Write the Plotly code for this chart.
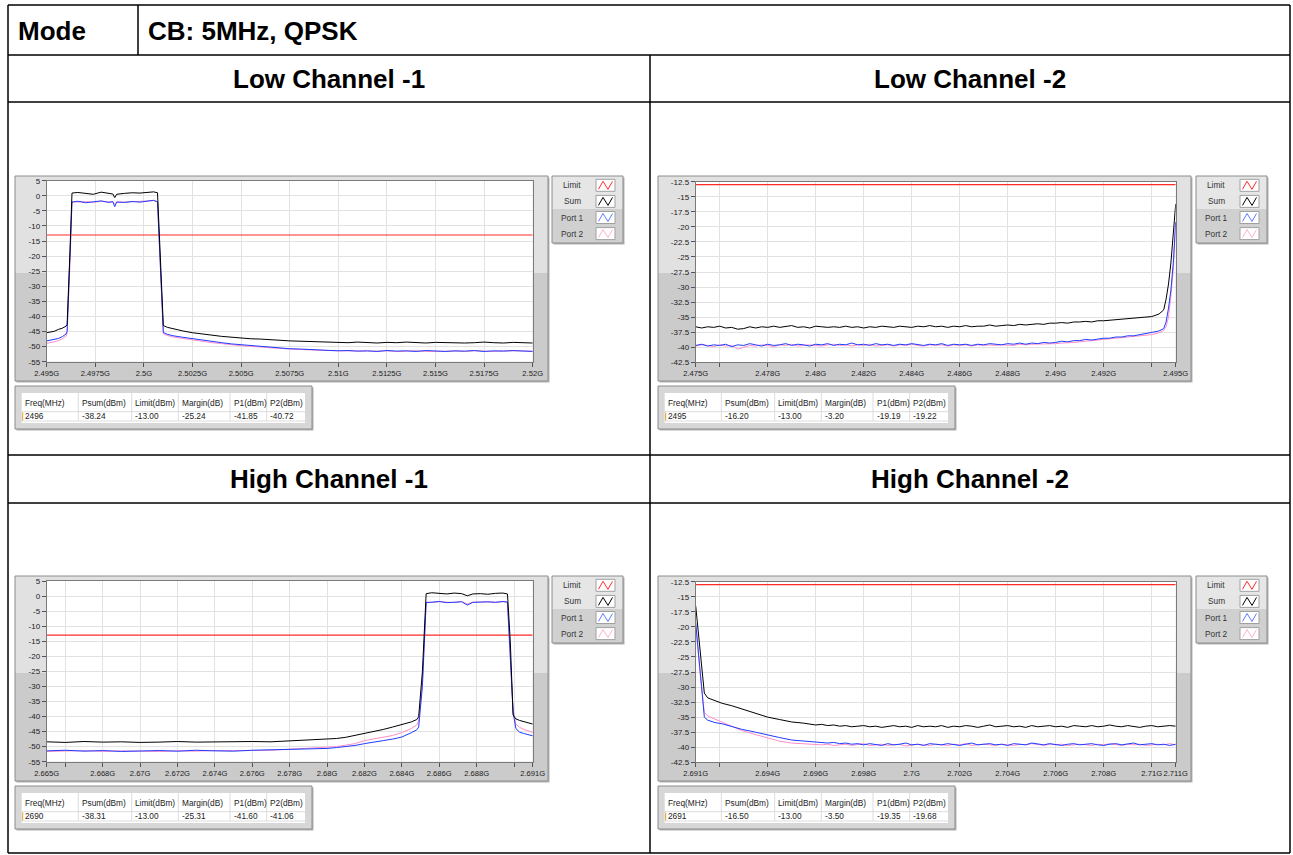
import plotly.graph_objects as go

# ---------------- data ----------------
mode_label = "Mode"
mode_value = "CB: 5MHz, QPSK"
panel_titles = ["Low Channel -1", "Low Channel -2", "High Channel -1", "High Channel -2"]
legend_names = ["Limit", "Sum", "Port 1", "Port 2"]
table_columns = ["Freq(MHz)", "Psum(dBm)", "Limit(dBm)", "Margin(dB)", "P1(dBm)", "P2(dBm)"]
limit_level = -13.0

lc1_row = ["2496", "-38.24", "-13.00", "-25.24", "-41.85", "-40.72"]
lc2_row = ["2495", "-16.20", "-13.00", "-3.20", "-19.19", "-19.22"]
hc1_row = ["2690", "-38.31", "-13.00", "-25.31", "-41.60", "-41.06"]
hc2_row = ["2691", "-16.50", "-13.00", "-3.50", "-19.35", "-19.68"]

wide_yticks = [5, 0, -5, -10, -15, -20, -25, -30, -35, -40, -45, -50, -55]
wide_ylabels = ["5", "0", "-5", "-10", "-15", "-20", "-25", "-30", "-35", "-40", "-45", "-50", "-55"]
fine_yticks = [-12.5, -15, -17.5, -20, -22.5, -25, -27.5, -30, -32.5, -35, -37.5, -40, -42.5]
fine_ylabels = ["-12.5", "-15", "-17.5", "-20", "-22.5", "-25", "-27.5", "-30", "-32.5", "-35", "-37.5", "-40", "-42.5"]

lc1_xticks = [2.495, 2.4975, 2.5, 2.5025, 2.505, 2.5075, 2.51, 2.5125, 2.515, 2.5175, 2.52]
lc1_xlabels = ["2.495G", "2.4975G", "2.5G", "2.5025G", "2.505G", "2.5075G", "2.51G", "2.5125G", "2.515G", "2.5175G", "2.52G"]
lc2_xticks = [2.475, 2.476, 2.478, 2.48, 2.482, 2.484, 2.486, 2.488, 2.49, 2.492, 2.494, 2.495]
lc2_xlabels = ["2.475G", "", "2.478G", "2.48G", "2.482G", "2.484G", "2.486G", "2.488G", "2.49G", "2.492G", "", "2.495G"]
hc1_xticks = [2.665, 2.666, 2.668, 2.67, 2.672, 2.674, 2.676, 2.678, 2.68, 2.682, 2.684, 2.686, 2.688, 2.69, 2.691]
hc1_xlabels = ["2.665G", "", "2.668G", "2.67G", "2.672G", "2.674G", "2.676G", "2.678G", "2.68G", "2.682G", "2.684G", "2.686G", "2.688G", "", "2.691G"]
hc2_xticks = [2.691, 2.692, 2.694, 2.696, 2.698, 2.7, 2.702, 2.704, 2.706, 2.708, 2.71, 2.711]
hc2_xlabels = ["2.691G", "", "2.694G", "2.696G", "2.698G", "2.7G", "2.702G", "2.704G", "2.706G", "2.708G", "2.71G", "2.711G"]

# Low Channel -1 (GHz / dBm)
lc1_freq = [2.4950, 2.4952, 2.4954, 2.4956, 2.4958, 2.4960, 2.49605, 2.4962, 2.4963, 2.4966,
            2.4970, 2.4974, 2.4978, 2.4982, 2.4984, 2.4985, 2.4986, 2.4990, 2.4994, 2.4998,
            2.5002, 2.5005, 2.5007, 2.50085, 2.5010, 2.5012, 2.5015, 2.5020, 2.5025, 2.5030,
            2.5035, 2.5040, 2.5045, 2.5050, 2.5055, 2.5060, 2.5065, 2.5070, 2.5075, 2.5080,
            2.5085, 2.5090, 2.5095, 2.5100, 2.5105, 2.5110, 2.5115, 2.5120, 2.5125, 2.5130,
            2.5135, 2.5140, 2.5145, 2.5150, 2.5155, 2.5160, 2.5165, 2.5170, 2.5175, 2.5180,
            2.5185, 2.5190, 2.5195, 2.5200]
lc1_sum = [-45.4, -45.1, -44.9, -44.3, -43.9, -43.2, -42.6, -18.0, 0.9, 1.1,
           0.8, 0.5, 1.2, 0.7, 0.6, -0.6, 0.5, 0.8, 1.0, 0.9,
           1.1, 1.3, 1.0, -22.0, -43.0, -43.6, -44.1, -44.8, -45.4, -45.9,
           -46.2, -46.6, -46.9, -47.1, -47.4, -47.5, -47.8, -47.9, -48.1, -48.2,
           -48.4, -48.5, -48.4, -48.6, -48.7, -48.5, -48.7, -48.8, -48.6, -48.7,
           -48.5, -48.7, -48.8, -48.6, -48.7, -48.6, -48.8, -48.7, -48.5, -48.7,
           -48.8, -48.6, -48.7, -48.8]
lc1_p1 = [-48.1, -47.9, -47.7, -47.3, -46.7, -45.8, -45.0, -22.0, -2.1, -1.8,
          -2.3, -2.0, -1.7, -2.2, -1.9, -3.6, -2.1, -2.2, -1.9, -2.1,
          -1.7, -1.5, -2.0, -24.0, -45.3, -45.9, -46.4, -46.9, -47.4, -47.9,
          -48.3, -48.7, -49.1, -49.4, -49.7, -49.9, -50.2, -50.4, -50.7, -50.8,
          -51.0, -51.1, -51.2, -51.4, -51.3, -51.5, -51.4, -51.6, -51.3, -51.5,
          -51.4, -51.6, -51.3, -51.5, -51.6, -51.4, -51.5, -51.3, -51.6, -51.4,
          -51.5, -51.3, -51.5, -51.6]
lc1_p2 = [-48.9, -48.7, -48.4, -48.0, -47.4, -46.5, -45.6, -22.5, -2.0, -2.1,
          -1.9, -2.2, -1.8, -2.0, -2.1, -2.8, -2.0, -2.1, -2.0, -1.9,
          -1.8, -1.6, -2.1, -24.5, -45.8, -46.3, -46.8, -47.3, -47.8, -48.3,
          -48.7, -49.0, -49.4, -49.7, -49.9, -50.2, -50.4, -50.6, -50.8, -51.0,
          -51.1, -51.2, -51.3, -51.4, -51.5, -51.4, -51.5, -51.5, -51.4, -51.6,
          -51.5, -51.4, -51.6, -51.5, -51.4, -51.5, -51.6, -51.4, -51.5, -51.6,
          -51.4, -51.5, -51.6, -51.5]

# Low Channel -2
lc2_freq = [2.47500, 2.47525, 2.47550, 2.47575, 2.47600, 2.47625, 2.47650, 2.47675, 2.47700, 2.47725,
            2.47750, 2.47775, 2.47800, 2.47825, 2.47850, 2.47875, 2.47900, 2.47925, 2.47950, 2.47975,
            2.48000, 2.48025, 2.48050, 2.48075, 2.48100, 2.48125, 2.48150, 2.48175, 2.48200, 2.48225,
            2.48250, 2.48275, 2.48300, 2.48325, 2.48350, 2.48375, 2.48400, 2.48425, 2.48450, 2.48475,
            2.48500, 2.48525, 2.48550, 2.48575, 2.48600, 2.48625, 2.48650, 2.48675, 2.48700, 2.48725,
            2.48750, 2.48775, 2.48800, 2.48825, 2.48850, 2.48875, 2.48900, 2.48925, 2.48950, 2.48975,
            2.49000, 2.49025, 2.49050, 2.49075, 2.49100, 2.49125, 2.49150, 2.49175, 2.49200, 2.49225,
            2.49250, 2.49275, 2.49300, 2.49325, 2.49350, 2.49375, 2.49400,
            2.4943, 2.4945, 2.4946, 2.4947, 2.4948, 2.4949, 2.4950]
lc2_sum = [-36.6, -36.8, -36.6, -36.7, -36.5, -36.8, -36.7, -37.0, -36.9, -36.6,
           -36.8, -36.6, -36.7, -36.5, -36.7, -36.6, -36.4, -36.7, -36.6, -36.8,
           -36.5, -36.6, -36.7, -36.6, -36.7, -36.5, -36.7, -36.6, -36.8, -36.6,
           -36.7, -36.5, -36.6, -36.7, -36.5, -36.6, -36.7, -36.5, -36.6, -36.4,
           -36.6, -36.5, -36.7, -36.5, -36.6, -36.4, -36.6, -36.5, -36.5, -36.3,
           -36.5, -36.4, -36.3, -36.4, -36.2, -36.3, -36.2, -36.1, -36.2, -36.0,
           -36.0, -35.9, -36.0, -35.8, -35.8, -35.7, -35.8, -35.6, -35.6, -35.5,
           -35.5, -35.3, -35.3, -35.2, -35.1, -35.0, -34.9,
           -34.5, -33.8, -32.0, -29.5, -26.0, -21.5, -16.2]
lc2_p1 = [-39.7, -39.5, -39.8, -39.6, -39.7, -39.5, -39.9, -39.6, -39.7, -39.4,
          -39.6, -39.8, -39.5, -39.7, -39.6, -39.4, -39.7, -39.5, -39.6, -39.8,
          -39.5, -39.6, -39.4, -39.7, -39.5, -39.6, -39.3, -39.6, -39.5, -39.7,
          -39.4, -39.6, -39.5, -39.7, -39.5, -39.6, -39.4, -39.6, -39.7, -39.5,
          -39.6, -39.4, -39.7, -39.5, -39.6, -39.5, -39.7, -39.5, -39.6, -39.4,
          -39.5, -39.6, -39.4, -39.5, -39.3, -39.5, -39.3, -39.4, -39.2, -39.3,
          -39.2, -39.0, -39.1, -38.9, -38.9, -38.7, -38.8, -38.6, -38.5, -38.5,
          -38.3, -38.3, -38.1, -38.1, -37.9, -37.8, -37.6,
          -37.3, -36.9, -35.8, -33.5, -30.5, -26.0, -19.2]
lc2_p2 = [-39.8, -39.6, -39.7, -39.9, -39.6, -39.8, -39.7, -40.3, -40.0, -39.7,
          -39.8, -39.6, -39.7, -39.9, -39.6, -39.7, -39.5, -39.8, -39.7, -39.6,
          -39.7, -39.8, -39.6, -39.5, -39.7, -39.6, -39.8, -39.6, -39.7, -39.5,
          -39.8, -39.7, -39.6, -39.8, -39.6, -39.7, -39.5, -39.7, -39.8, -39.6,
          -39.7, -39.6, -39.8, -39.6, -39.7, -39.6, -39.8, -39.6, -39.7, -39.6,
          -39.7, -39.6, -39.6, -39.7, -39.5, -39.6, -39.5, -39.5, -39.4, -39.5,
          -39.4, -39.3, -39.3, -39.2, -39.1, -39.0, -39.0, -38.9, -38.8, -38.7,
          -38.6, -38.5, -38.4, -38.3, -38.2, -38.0, -37.9,
          -37.6, -37.2, -36.6, -35.0, -31.5, -27.0, -19.2]

# High Channel -1
hc1_freq = [2.665, 2.666, 2.667, 2.668, 2.669, 2.670, 2.671, 2.672, 2.673, 2.674,
            2.675, 2.676, 2.677, 2.678, 2.6785, 2.679, 2.6795, 2.680, 2.6805, 2.6810,
            2.6815, 2.6820, 2.6825, 2.6830, 2.6835, 2.6840, 2.6845, 2.6848, 2.6849, 2.6851,
            2.6853, 2.6856, 2.6860, 2.6864, 2.6868, 2.6872, 2.6875, 2.6878, 2.6882, 2.6886,
            2.6890, 2.6894, 2.68965, 2.6898, 2.68995, 2.6901, 2.6903, 2.6905, 2.6907, 2.6910]
hc1_sum = [-48.4, -48.6, -48.3, -48.5, -48.4, -48.6, -48.5, -48.3, -48.5, -48.4,
           -48.5, -48.3, -48.4, -48.1, -48.0, -47.8, -47.7, -47.6, -47.3, -46.9,
           -46.3, -45.6, -45.0, -44.3, -43.5, -42.6, -41.8, -41.0, -40.0, -25.0,
           0.8, 1.1, 0.9, 0.7, 1.0, 0.8, 0.1, 0.7, 0.8, 0.6,
           0.9, 1.0, 0.7, -15.0, -39.5, -40.8, -41.3, -41.7, -42.0, -42.5]
hc1_p1 = [-51.4, -51.2, -51.5, -51.3, -51.6, -51.4, -51.3, -51.5, -51.2, -51.4,
          -51.5, -51.2, -51.1, -51.0, -50.9, -50.8, -50.7, -50.6, -50.3, -50.0,
          -49.6, -49.0, -48.6, -48.0, -47.5, -46.8, -45.4, -44.4, -43.5, -30.0,
          -2.2, -2.0, -1.8, -2.2, -2.0, -1.9, -3.0, -2.1, -2.0, -1.9,
          -2.1, -1.8, -2.0, -20.0, -38.5, -44.0, -45.2, -45.6, -46.0, -46.4]
hc1_p2 = [-51.6, -51.4, -51.3, -51.6, -51.4, -51.5, -51.6, -51.4, -51.5, -51.3,
          -51.4, -51.3, -51.2, -50.9, -50.8, -50.6, -50.5, -50.3, -50.0, -49.5,
          -49.0, -48.0, -47.5, -46.9, -46.3, -45.3, -44.0, -42.8, -41.5, -28.0,
          -2.0, -2.1, -1.9, -2.0, -2.2, -1.8, -2.6, -2.0, -1.9, -2.0,
          -2.0, -1.9, -2.1, -19.0, -37.5, -42.5, -43.6, -44.2, -44.7, -45.3]

# High Channel -2
hc2_freq = [2.6910, 2.69105, 2.6911, 2.69118, 2.6913, 2.69136, 2.6915, 2.6918, 2.6921, 2.6925,
            2.6929, 2.6935, 2.6940, 2.6945, 2.6950, 2.6955, 2.6960,
            2.69625, 2.69650, 2.69675, 2.69700, 2.69725, 2.69750, 2.69775, 2.69800, 2.69825, 2.69850,
            2.69875, 2.69900, 2.69925, 2.69950, 2.69975, 2.70000, 2.70025, 2.70050, 2.70075, 2.70100,
            2.70125, 2.70150, 2.70175, 2.70200, 2.70225, 2.70250, 2.70275, 2.70300, 2.70325, 2.70350,
            2.70375, 2.70400, 2.70425, 2.70450, 2.70475, 2.70500, 2.70525, 2.70550, 2.70575, 2.70600,
            2.70625, 2.70650, 2.70675, 2.70700, 2.70725, 2.70750, 2.70775, 2.70800, 2.70825, 2.70850,
            2.70875, 2.70900, 2.70925, 2.70950, 2.70975, 2.71000, 2.71025, 2.71050, 2.71075, 2.71100]
hc2_sum = [-16.5, -18.5, -21.0, -23.3, -28.5, -31.0, -31.8, -32.3, -32.7, -33.1,
           -33.6, -34.3, -35.0, -35.4, -35.8, -36.0, -36.3,
           -36.2, -36.4, -36.3, -36.5, -36.4, -36.6, -36.5, -36.4, -36.6, -36.5,
           -36.7, -36.5, -36.4, -36.6, -36.5, -36.7, -36.4, -36.6, -36.5, -36.6,
           -36.4, -36.7, -36.5, -36.6, -36.4, -36.5, -36.7, -36.5, -36.3, -36.6,
           -36.5, -36.4, -36.6, -36.5, -36.7, -36.4, -36.6, -36.5, -36.4, -36.6,
           -36.5, -36.7, -36.4, -36.5, -36.6, -36.4, -36.6, -36.5, -36.3, -36.5,
           -36.6, -36.4, -36.5, -36.7, -36.5, -36.4, -36.6, -36.5, -36.4, -36.5]
hc2_p1 = [-19.3, -21.5, -24.0, -27.3, -32.5, -35.0, -35.5, -35.9, -36.1, -36.6,
          -37.0, -37.5, -38.0, -38.4, -38.8, -39.0, -39.1,
          -39.2, -39.3, -39.2, -39.4, -39.3, -39.5, -39.4, -39.6, -39.4, -39.5,
          -39.7, -39.4, -39.6, -39.5, -39.3, -39.6, -39.5, -39.7, -39.4, -39.5,
          -39.6, -39.4, -39.5, -39.7, -39.5, -39.3, -39.6, -39.5, -39.4, -39.6,
          -39.5, -39.7, -39.4, -39.5, -39.6, -39.3, -39.5, -39.6, -39.4, -39.5,
          -39.7, -39.5, -39.4, -39.6, -39.5, -39.4, -39.6, -39.7, -39.5, -39.4,
          -39.6, -39.5, -39.3, -39.6, -39.5, -39.4, -39.6, -39.5, -39.7, -39.5]
hc2_p2 = [-19.7, -22.0, -24.5, -27.5, -32.0, -34.2, -34.8, -35.3, -35.8, -36.6,
          -37.2, -37.9, -38.5, -39.0, -39.3, -39.4, -39.5,
          -39.6, -39.5, -39.7, -39.6, -39.5, -39.7, -39.6, -39.4, -39.7, -39.6,
          -39.5, -39.7, -39.6, -39.5, -39.8, -39.6, -39.5, -39.6, -39.7, -39.5,
          -39.6, -39.7, -39.5, -39.6, -39.4, -39.7, -39.6, -39.5, -39.6, -39.7,
          -39.5, -39.6, -39.7, -39.5, -39.6, -39.4, -39.6, -39.7, -39.5, -39.6,
          -39.5, -39.7, -39.6, -39.5, -39.6, -39.7, -39.5, -39.6, -39.4, -39.6,
          -39.7, -39.5, -39.6, -39.5, -39.7, -39.6, -39.5, -39.6, -39.4, -39.6]

for _f, _a, _b, _c in [(lc1_freq, lc1_sum, lc1_p1, lc1_p2), (lc2_freq, lc2_sum, lc2_p1, lc2_p2),
                       (hc1_freq, hc1_sum, hc1_p1, hc1_p2), (hc2_freq, hc2_sum, hc2_p1, hc2_p2)]:
    assert len(_f) == len(_a) == len(_b) == len(_c), (len(_f), len(_a), len(_b), len(_c))

# ---------------- styling / layout helpers ----------------
W, H = 1293, 855
FONT = "Liberation Sans"
C_LIMIT, C_SUM, C_P1, C_P2 = "#ff2a2a", "#000000", "#1f3cff", "#ff8ec8"
legend_colors = [C_LIMIT, C_SUM, "#5a7cff", "#ffb0d4"]


def X(px):
    return px / W


def Y(py):
    return 1 - py / H


shapes, annos = [], []


def rect(x0, y0, x1, y1, fill=None, line=None, lw=1):
    shapes.append(dict(type="rect", xref="paper", yref="paper", layer="below",
                       x0=X(x0), x1=X(x1), y0=Y(y1), y1=Y(y0),
                       fillcolor=fill if fill else "rgba(0,0,0,0)",
                       line=dict(color=line if line else "rgba(0,0,0,0)", width=lw if line else 0)))


def seg(x0, y0, x1, y1, color, lw=1, layer="below"):
    shapes.append(dict(type="line", xref="paper", yref="paper", layer=layer,
                       x0=X(x0), y0=Y(y0), x1=X(x1), y1=Y(y1), line=dict(color=color, width=lw)))


def text(x, y, s, size, color="#000", xanchor="left"):
    annos.append(dict(xref="paper", yref="paper", x=X(x), y=Y(y), text=s, showarrow=False,
                      xanchor=xanchor, yanchor="middle", borderpad=0,
                      font=dict(size=size, color=color, family=FONT)))


# ---------------- outer table ----------------
seg(8, 5, 1290, 5, "#000", 1.5, "above")
seg(8, 853, 1290, 853, "#000", 1.5, "above")
seg(8, 5, 8, 853, "#000", 1.5, "above")
seg(1290, 5, 1290, 853, "#000", 1.5, "above")
for yy in (55, 102, 455, 503):
    seg(8, yy, 1290, yy, "#000", 1.5, "above")
seg(138, 5, 138, 55, "#000", 1.5, "above")
seg(650, 55, 650, 853, "#000", 1.5, "above")

HS = 26
text(17, 31, "<b>" + mode_label + "</b>", HS)
text(147, 31, "<b>" + mode_value + "</b>", HS)
text(329, 79, "<b>" + panel_titles[0] + "</b>", HS, xanchor="center")
text(970, 79, "<b>" + panel_titles[1] + "</b>", HS, xanchor="center")
text(329, 479, "<b>" + panel_titles[2] + "</b>", HS, xanchor="center")
text(970, 479, "<b>" + panel_titles[3] + "</b>", HS, xanchor="center")

# ---------------- panels ----------------
panels = [
    dict(fx=15, fy=176, px=(46.7, 532.7), py=(180.7, 361.7), lx=552,
         freq=lc1_freq, s=lc1_sum, p1=lc1_p1, p2=lc1_p2, yr=(-55, 5), yt=wide_yticks, yl=wide_ylabels,
         xt=lc1_xticks, xl=lc1_xlabels, row=lc1_row),
    dict(fx=658, fy=176, px=(695.7, 1175.7), py=(181.7, 362.3), lx=1196,
         freq=lc2_freq, s=lc2_sum, p1=lc2_p1, p2=lc2_p2, yr=(-42.5, -12.5), yt=fine_yticks, yl=fine_ylabels,
         xt=lc2_xticks, xl=lc2_xlabels, row=lc2_row),
    dict(fx=15, fy=576, px=(46.7, 532.7), py=(581.0, 761.7), lx=552,
         freq=hc1_freq, s=hc1_sum, p1=hc1_p1, p2=hc1_p2, yr=(-55, 5), yt=wide_yticks, yl=wide_ylabels,
         xt=hc1_xticks, xl=hc1_xlabels, row=hc1_row),
    dict(fx=658, fy=576, px=(695.7, 1175.7), py=(581.7, 762.3), lx=1196,
         freq=hc2_freq, s=hc2_sum, p1=hc2_p1, p2=hc2_p2, yr=(-42.5, -12.5), yt=fine_yticks, yl=fine_ylabels,
         xt=hc2_xticks, xl=hc2_xlabels, row=hc2_row),
]

col_off = [6.7, 63.3, 116.7, 163.3, 215.0, 251.7]

fig = go.Figure()
layout_axes = {}
for i, p in enumerate(panels, start=1):
    fx, fy = p["fx"], p["fy"]
    # graph frame
    rect(fx + 1.5, fy + 1.5, fx + 534.5, fy + 206.5, fill="#b4b4b4")
    rect(fx, fy, fx + 533, fy + 97, fill="#e1e1e1")
    rect(fx, fy + 97, fx + 533, fy + 205, fill="#cbcbcb")
    rect(fx, fy, fx + 533, fy + 205, line="#8c8c8c", lw=1)
    rect(p["px"][0], p["py"][0], p["px"][1], p["py"][1], fill="#ffffff")

    # legend
    lx = p["lx"]
    rect(lx + 1.5, fy + 1.5, lx + 72.5, fy + 68.5, fill="#b4b4b4")
    rect(lx, fy, lx + 71, fy + 33, fill="#e6e6e6")
    rect(lx, fy + 33, lx + 71, fy + 67, fill="#d0d0d0")
    rect(lx, fy, lx + 71, fy + 67, line="#8c8c8c", lw=1)
    for k, name in enumerate(legend_names):
        yc = fy + 9.3 + 16.1 * k
        text(lx + 20, yc, name, 8.3, "#333", xanchor="center")
        sx = lx + 44
        rect(sx, yc - 6, sx + 19, yc + 6, fill="#ffffff", line="#a0a0a0", lw=1)
        pts = [(sx + 2.5, yc + 4), (sx + 7, yc - 4), (sx + 12, yc + 4), (sx + 16.5, yc - 4)]
        path = "M " + " L ".join(f"{X(a):.6f},{Y(b):.6f}" for a, b in pts)
        shapes.append(dict(type="path", xref="paper", yref="paper", layer="below", path=path,
                           line=dict(color=legend_colors[k], width=1)))

    # readout table
    ty = fy + 210
    rect(fx + 1.5, ty + 1.5, fx + 298.5, ty + 44.5, fill="#b4b4b4")
    rect(fx, ty, fx + 297, ty + 43, fill="#d7d7d7", line="#8c8c8c", lw=1)
    rect(fx + 6.7, ty + 7, fx + 290, ty + 37, fill="#ffffff")
    seg(fx + 6.7, ty + 25.7, fx + 290, ty + 25.7, "#dcdcdc", 1)
    seg(fx + 6.7, ty + 35, fx + 290, ty + 35, "#dcdcdc", 1)
    for c in col_off[1:]:
        seg(fx + c, ty + 7, fx + c, ty + 35, "#dcdcdc", 1)
    seg(fx + 7.6, ty + 26.5, fx + 7.6, ty + 34.5, "#e8b040", 1.2)
    for c, head, val in zip(col_off, table_columns, p["row"]):
        text(fx + c + 2.5, ty + 16.7, head, 8.3, "#222")
        text(fx + c + 2.5, ty + 30.2, val, 8.3, "#222")

    # axes
    xa = "x" if i == 1 else f"x{i}"
    ya = "y" if i == 1 else f"y{i}"
    xdom = [X(p["px"][0]), X(p["px"][1])]
    ydom = [Y(p["py"][1]), Y(p["py"][0])]
    axis_common = dict(showgrid=True, gridcolor="#e2e2e2", gridwidth=1, zeroline=False,
                       showline=True, linecolor="#7a7a7a", linewidth=1, mirror=True,
                       ticks="outside", ticklen=4, tickcolor="#555", tickwidth=1, tickangle=0,
                       automargin=False, fixedrange=True)
    layout_axes["xaxis" if i == 1 else f"xaxis{i}"] = dict(
        domain=xdom, anchor=ya, range=[p["freq"][0], p["freq"][-1]],
        tickmode="array", tickvals=p["xt"], ticktext=p["xl"],
        tickfont=dict(size=7.6, color="#222", family=FONT), **axis_common)
    layout_axes["yaxis" if i == 1 else f"yaxis{i}"] = dict(
        domain=ydom, anchor=xa, range=list(p["yr"]),
        tickmode="array", tickvals=p["yt"], ticktext=p["yl"],
        tickfont=dict(size=8, color="#222", family=FONT), **axis_common)

    f0, f1 = p["freq"][0], p["freq"][-1]
    fig.add_trace(go.Scatter(x=[f0, f1], y=[limit_level, limit_level], mode="lines", xaxis=xa, yaxis=ya,
                             line=dict(color=C_LIMIT, width=1.2), showlegend=False, name="Limit"))
    fig.add_trace(go.Scatter(x=p["freq"], y=p["p2"], mode="lines", xaxis=xa, yaxis=ya,
                             line=dict(color=C_P2, width=1), showlegend=False, name="Port 2"))
    fig.add_trace(go.Scatter(x=p["freq"], y=p["p1"], mode="lines", xaxis=xa, yaxis=ya,
                             line=dict(color=C_P1, width=1), showlegend=False, name="Port 1"))
    fig.add_trace(go.Scatter(x=p["freq"], y=p["s"], mode="lines", xaxis=xa, yaxis=ya,
                             line=dict(color=C_SUM, width=1), showlegend=False, name="Sum"))

fig.update_layout(width=W, height=H, margin=dict(l=0, r=0, t=0, b=0, pad=0, autoexpand=False),
                  paper_bgcolor="#ffffff", plot_bgcolor="#ffffff",
                  shapes=shapes, annotations=annos, showlegend=False,
                  font=dict(family=FONT), **layout_axes)

fig.write_html("out.html", config={"displayModeBar": False},
               post_script="document.body.style.margin='0';document.body.style.overflow='hidden';")
